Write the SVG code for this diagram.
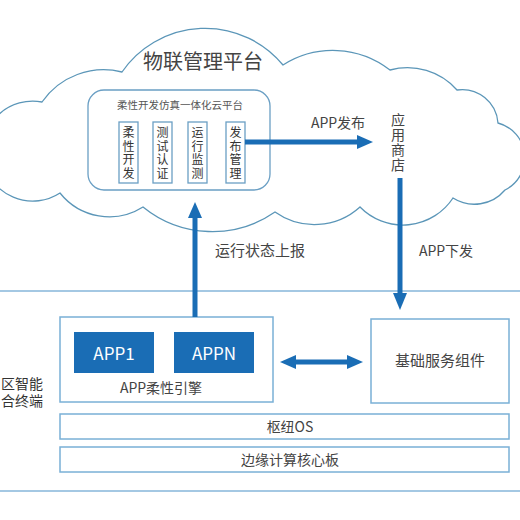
<svg xmlns="http://www.w3.org/2000/svg" width="520" height="520" viewBox="0 0 520 520">
<defs>
<style>
.t{font-family:"Noto Sans CJK SC","Liberation Sans",sans-serif;fill:#444;}
.v{font-family:"Noto Sans CJK SC","Liberation Sans",sans-serif;fill:#333;font-size:12px;text-anchor:middle;}
.cloud{fill:#fff;stroke:#5b96b8;stroke-width:1.3;}
.box{fill:#fff;stroke:#7ab0d6;stroke-width:1.5;}
.sm{fill:#fff;stroke:#6a9fc4;stroke-width:1.3;}
.app{fill:#1a6db5;}
.ar{fill:none;stroke:#1a6db5;stroke-width:5;}
.ah{fill:#1a6db5;}
.sep{stroke:#86b6da;stroke-width:1.5;}
</style>
</defs>
<rect width="520" height="520" fill="#fff"/>
<line class="sep" x1="0" y1="291" x2="520" y2="291"/>
<line class="sep" x1="0" y1="491" x2="520" y2="491"/>
<g id="cloud">
<path class="cloud" d="M42,102 A75 75 0 0 1 122,72 A101 101 0 0 1 283,65 A93 93 0 0 1 390,70 A66 66 0 0 1 457,90 A36 36 0 0 1 498,123 A36 36 0 0 1 505,190 A40 40 0 0 1 453,198 A60 60 0 0 1 360,207 A68 68 0 0 1 275,212 A110 110 0 0 1 143,207 A63 63 0 0 1 60,193 A50 50 0 1 1 42,102 Z"/>
<text class="t" x="203" y="69" font-size="20" text-anchor="middle">物联管理平台</text>
</g>
<g id="sim-platform">
<rect class="sm" x="88" y="90" width="182" height="100" rx="16"/>
<text class="t" x="180" y="109" font-size="10.5" text-anchor="middle" style="fill:#555">柔性开发仿真一体化云平台</text>
</g>
<g id="box-dev">
<rect class="sm" x="119" y="122" width="19" height="61"/>
<text class="v"><tspan x="128.5" y="137">柔</tspan><tspan x="128.5" y="150.5">性</tspan><tspan x="128.5" y="164">开</tspan><tspan x="128.5" y="177.5">发</tspan></text>
</g>
<g id="box-test">
<rect class="sm" x="153" y="122" width="19" height="61"/>
<text class="v"><tspan x="162.5" y="137">测</tspan><tspan x="162.5" y="150.5">试</tspan><tspan x="162.5" y="164">认</tspan><tspan x="162.5" y="177.5">证</tspan></text>
</g>
<g id="box-monitor">
<rect class="sm" x="188" y="122" width="19" height="61"/>
<text class="v"><tspan x="197.5" y="137">运</tspan><tspan x="197.5" y="150.5">行</tspan><tspan x="197.5" y="164">监</tspan><tspan x="197.5" y="177.5">测</tspan></text>
</g>
<g id="box-publish">
<rect class="sm" x="226" y="122" width="19" height="61"/>
<text class="v"><tspan x="235.5" y="137">发</tspan><tspan x="235.5" y="150.5">布</tspan><tspan x="235.5" y="164">管</tspan><tspan x="235.5" y="177.5">理</tspan></text>
</g>
<g id="app-store">
<text class="t" font-size="14" text-anchor="middle"><tspan x="398" y="125">应</tspan><tspan x="398" y="140">用</tspan><tspan x="398" y="155">商</tspan><tspan x="398" y="170">店</tspan></text>
</g>
<g id="engine">
<rect class="box" x="60" y="317" width="213" height="85"/>
<text class="t" x="161" y="393" font-size="14" text-anchor="middle">APP柔性引擎</text>
</g>
<g id="app1">
<rect class="app" x="74" y="332" width="80" height="41"/>
<text class="t" x="114" y="360" font-size="17" text-anchor="middle" style="fill:#fff">APP1</text>
</g>
<g id="appn">
<rect class="app" x="174" y="332" width="80" height="41"/>
<text class="t" x="214" y="360" font-size="17" text-anchor="middle" style="fill:#fff">APPN</text>
</g>
<g id="base-service">
<rect class="box" x="371" y="319" width="138" height="84"/>
<text class="t" x="440" y="366" font-size="15" text-anchor="middle">基础服务组件</text>
</g>
<g id="hub-os">
<rect class="box" x="60" y="414" width="449" height="25"/>
<text class="t" x="290" y="432" font-size="14" text-anchor="middle">枢纽OS</text>
</g>
<g id="edge-board">
<rect class="box" x="60" y="447" width="449" height="25"/>
<text class="t" x="290" y="465" font-size="14" text-anchor="middle">边缘计算核心板</text>
</g>
<g id="terminal-label">
<text class="t" font-size="14" text-anchor="end" style="fill:#333"><tspan x="43" y="389">区智能</tspan><tspan x="43" y="406">合终端</tspan></text>
</g>
<g id="connectors">
<line class="ar" x1="245" y1="142" x2="359" y2="142"/>
<polygon class="ah" points="357,135 373,142 357,149"/>
<text class="t" x="338" y="128" font-size="14" text-anchor="middle">APP发布</text>
<line class="ar" x1="400" y1="178" x2="400" y2="295"/>
<polygon class="ah" points="393,293 400,310 407,293"/>
<text class="t" x="446" y="256" font-size="14" text-anchor="middle">APP下发</text>
<line class="ar" x1="195" y1="317" x2="195" y2="215"/>
<polygon class="ah" points="188,218 195,202 202,218"/>
<text class="t" x="260" y="256" font-size="15" text-anchor="middle">运行状态上报</text>
<line class="ar" x1="292" y1="362" x2="352" y2="362"/>
<polygon class="ah" points="296,355 280,362 296,369"/>
<polygon class="ah" points="347,355 363,362 347,369"/>
</g>
</svg>
